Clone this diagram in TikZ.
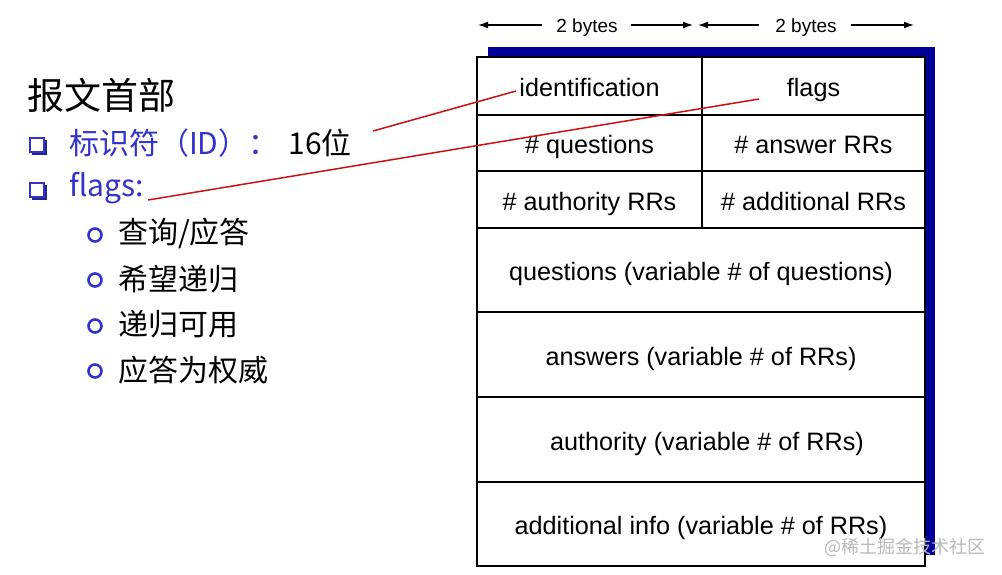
\documentclass[tikz,border=0pt]{standalone}
\usepackage{fontspec}
\setmainfont{Liberation Sans}
\newfontfamily\cjk{Noto Sans CJK SC}
\usetikzlibrary{arrows.meta}
\definecolor{navy}{RGB}{0,0,153}
\definecolor{bblue}{RGB}{51,51,204}
\definecolor{lred}{RGB}{204,17,17}
\begin{document}
\begin{tikzpicture}[x=1pt,y=-1pt,
  cell/.style={draw, line width=2pt, fill=white, inner sep=0pt, text height=21pt, text depth=0pt, font=\fontsize{25.2}{28}\selectfont},
  hdr/.style={font=\fontsize{19}{22}\selectfont, inner sep=0pt, text height=14pt, text depth=0pt},
  bytearrow/.style={line width=1.3pt, -{Latex[length=10pt,width=7pt]}},
  redline/.style={draw=lred, line width=1.5pt},
  zh/.style={font=\cjk\fontsize{30}{34}\selectfont, anchor=west, inner sep=0pt},
  sqbullet/.style={draw=bblue, line width=1.8pt},
  circbullet/.style={draw=bblue, line width=2.6pt, fill=white},
]
\useasboundingbox (0,0) rectangle (1002,574);
\fill[white] (0,0) rectangle (1002,574);
% shadow
\fill[navy] (488,47) rectangle (935,555);
% table cells
\node[cell, minimum width=225pt, minimum height=58pt] (id) at (589.5,86) {identification};
\node[cell, minimum width=223pt, minimum height=58pt] (fl) at (813.5,86) {flags};
\node[cell, minimum width=225pt, minimum height=56pt] (nq) at (589.5,143) {\# questions};
\node[cell, minimum width=223pt, minimum height=56pt] (na) at (813.5,143) {\# answer RRs};
\node[cell, minimum width=225pt, minimum height=57pt] (nau) at (589.5,199.5) {\# authority RRs};
\node[cell, minimum width=223pt, minimum height=57pt] (nad) at (813.5,199.5) {\# additional RRs};
\node[cell, minimum width=448pt, minimum height=84pt] (qs) at (701,270) {questions (variable \# of questions)};
\node[cell, minimum width=448pt, minimum height=85pt] (an) at (701,354.5) {answers (variable \# of RRs)};
\node[cell, minimum width=448pt, minimum height=85pt] (au) at (701,439.5) {\hspace*{12pt}authority (variable \# of RRs)};
\node[cell, minimum width=448pt, minimum height=84pt] (ad) at (701,524) {additional info (variable \# of RRs)};
% header
\node[hdr] (b1) at (587,25) {2 bytes};
\node[hdr] (b2) at (806,25) {2 bytes};
\coordinate (b1l) at (478,25);
\coordinate (b1r) at (693,25);
\coordinate (b2l) at (698,25);
\coordinate (b2r) at (914,25);
\draw[bytearrow] ([xshift=-14pt]b1.west) -- (b1l);
\draw[bytearrow] ([xshift=13pt]b1.east) -- (b1r);
\draw[bytearrow] ([xshift=-16pt]b2.west) -- (b2l);
\draw[bytearrow] ([xshift=14pt]b2.east) -- (b2r);
% left text
\node[font=\cjk\fontsize{37}{40}\selectfont, anchor=west, inner sep=0pt] (title) at (27,95) {报文首部};
\node[zh, text=bblue] (l1) at (69,143) {标识符（ID）：\hspace{10pt}\textcolor{black}{16位}};
\node[zh, text=bblue] (l2) at (69,188) {flags:};
\node[zh] (s1) at (118,233) {查询/应答};
\node[zh] (s2) at (118,279) {希望递归};
\node[zh] (s3) at (118,324) {递归可用};
\node[zh] (s4) at (118,370) {应答为权威};
% bullets
\foreach \yy in {145,190} {
  \draw[sqbullet] (30,\yy-7) rectangle (44,\yy+7);
  \draw[bblue!70!black, line width=1.5pt] (46,\yy-5) -- (46,\yy+9) -- (32,\yy+9);
}
\foreach \yy in {235,280,326,371} {
  \draw[circbullet] (95,\yy) circle (6.5pt);
}
% red connectors
\coordinate (p1) at (373,131);
\coordinate (idt) at (516,91);
\coordinate (p2) at (148,200);
\coordinate (flt) at (759,99);
\draw[redline] (p1) -- (idt);
\draw[redline] (p2) -- (flt);
% watermark
\node[font=\cjk\fontsize{18}{20}\selectfont, text=gray!55, inner sep=0pt] (wm) at (905,547) {@稀土掘金技术社区};
\end{tikzpicture}
\end{document}
